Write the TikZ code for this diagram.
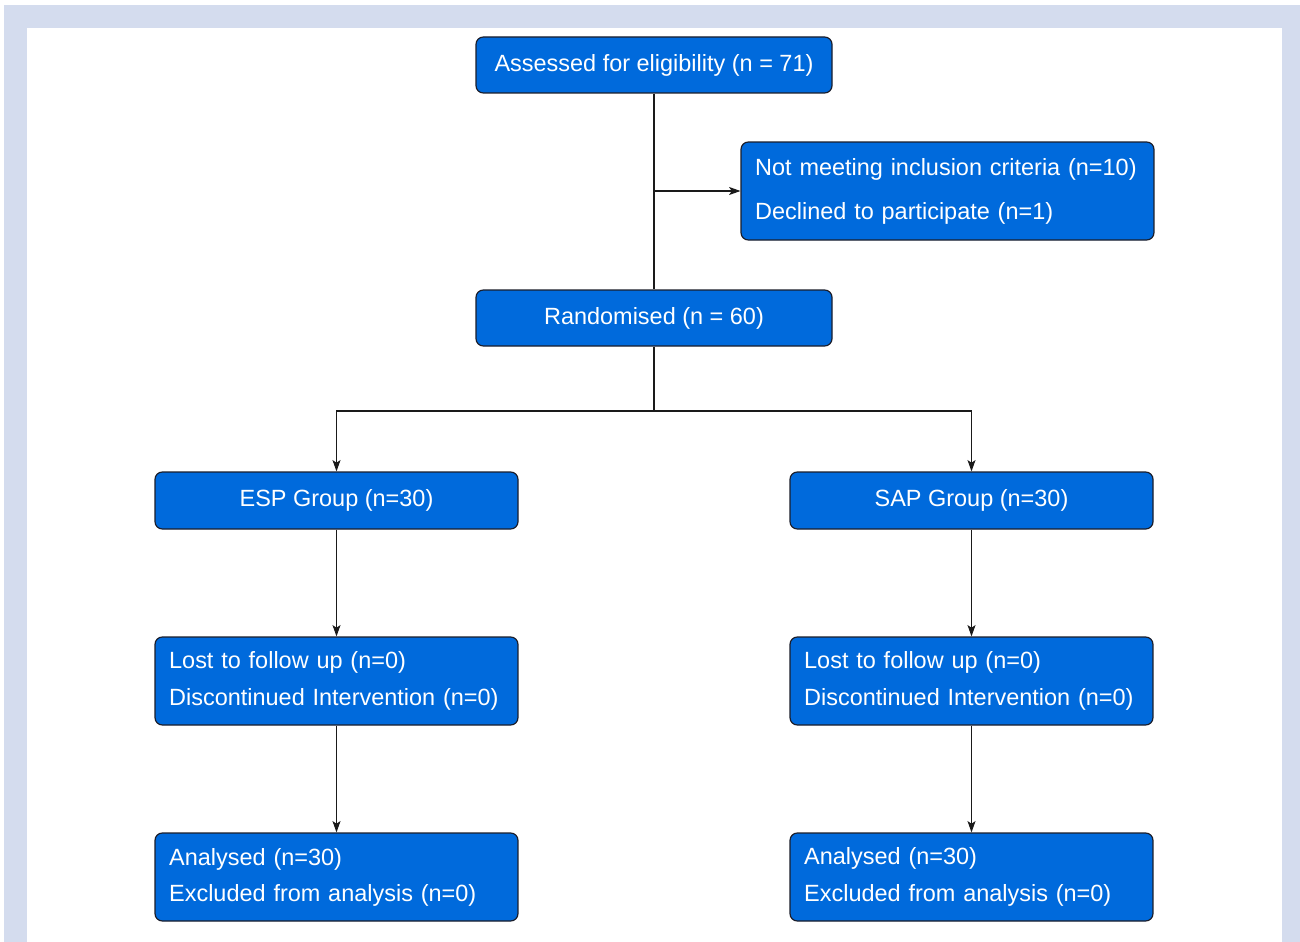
\documentclass[tikz,border=0pt]{standalone}
\usepackage{fontspec}
\setmainfont{Liberation Sans}
\usetikzlibrary{arrows.meta,positioning}
\definecolor{cBox}{HTML}{006ADC}
\definecolor{cEdge}{HTML}{1B1E2B}
\definecolor{cFrame}{HTML}{D4DCEE}
\definecolor{cLine}{HTML}{1A1A1A}
\tikzset{
  box/.style ={draw=cEdge, fill=cBox, rounded corners=5.5pt, text=white, line width=0.9pt,
               font=\fontsize{17.6}{21}\selectfont, inner sep=0pt},
  wide/.style ={box, minimum width=267pt, minimum height=42pt},
  grp/.style  ={box, minimum width=272.25pt, minimum height=42.75pt},
  list/.style ={box, align=left, inner xsep=10.6pt, text width=251pt, minimum height=66pt},
  link/.style ={draw=cLine, line width=0.8pt},
  arrow/.style={link, -{Stealth[length=8.5pt,width=6pt,inset=2pt]}},
}

\begin{document}
\begin{tikzpicture}[x=0.75pt, y=-0.75pt]
        \useasboundingbox (0,0) rectangle (1300,942);
        \fill[cFrame] (4,5) rectangle (1300,942);
        \fill[white] (27,28) rectangle (1282,942);
        % enrolment
        \node[wide] (assess) at (654,65){Assessed for eligibility (n = 71)};
        \node[box, align=left, inner xsep=10.6pt, text width=288.5pt, minimum height=73.5pt,
              font=\fontsize{17.6}{33}\selectfont] (excl) at (947.5,191)
              {\mbox{Not meeting inclusion criteria (n=10)}\\Declined to participate (n=1)};
        \node[wide] (rand) at (654,318){Randomised (n = 60)};
        \coordinate (split) at (654,191);
        \coordinate (branch) at (654,411);
        % allocation
        \node[grp] (esp) at (336.5,500.5){ESP Group (n=30)};
        \node[grp] (sap) at (971.5,500.5){SAP Group (n=30)};
        % follow up
        \node[list, font=\fontsize{17.6}{27.75}\selectfont] (espfu) at (336.5,681)
              {Lost to follow up (n=0)\\\mbox{Discontinued Intervention (n=0)}};
        \node[list, font=\fontsize{17.6}{27.75}\selectfont] (sapfu) at (971.5,681)
              {Lost to follow up (n=0)\\\mbox{Discontinued Intervention (n=0)}};
        % analysis
        \node[list, font=\fontsize{17.6}{27}\selectfont] (espan) at (336.5,877)
              {Analysed (n=30)\\Excluded from analysis (n=0)};
        \node[list, font=\fontsize{17.6}{28}\selectfont] (sapan) at (971.5,877)
              {Analysed (n=30)\\Excluded from analysis (n=0)};
        \draw[link] (assess) -- (rand);
        \draw[arrow] (split) -- (excl);
        \draw[link] (rand) -- (branch);
        \draw[arrow] (branch) -| (esp);
        \draw[arrow] (branch) -| (sap);
        \draw[arrow] (esp) -- (espfu);
        \draw[arrow] (sap) -- (sapfu);
        \draw[arrow] (espfu) -- (espan);
        \draw[arrow] (sapfu) -- (sapan);
      \end{tikzpicture}
\end{document}
